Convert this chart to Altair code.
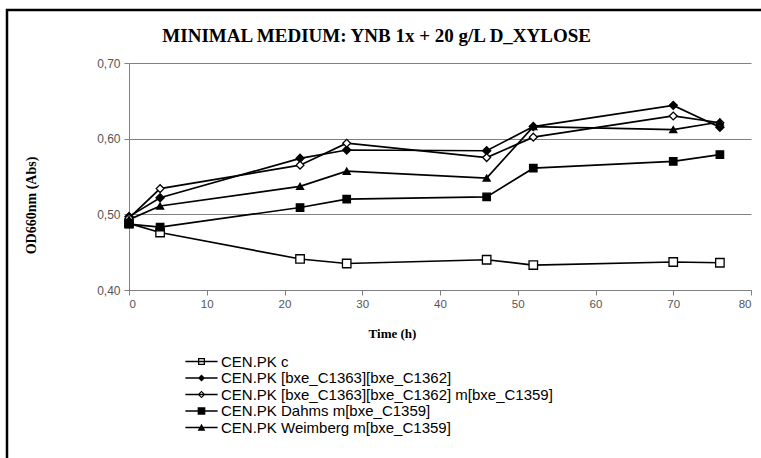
import altair as alt
import pandas as pd

times = [0, 4, 22, 28, 46, 52, 70, 76]
series_names = [
    "CEN.PK c",
    "CEN.PK [bxe_C1363][bxe_C1362]",
    "CEN.PK [bxe_C1363][bxe_C1362] m[bxe_C1359]",
    "CEN.PK Dahms m[bxe_C1359]",
    "CEN.PK Weimberg m[bxe_C1359]",
]
od_control = [0.488, 0.476, 0.441, 0.435, 0.440, 0.433, 0.437, 0.436]
od_c1363_c1362 = [0.497, 0.522, 0.574, 0.585, 0.584, 0.616, 0.644, 0.615]
od_c1363_c1362_m1359 = [0.495, 0.534, 0.565, 0.594, 0.575, 0.602, 0.630, 0.621]
od_dahms = [0.487, 0.483, 0.509, 0.520, 0.523, 0.561, 0.570, 0.579]
od_weimberg = [0.493, 0.511, 0.537, 0.557, 0.548, 0.616, 0.612, 0.622]

all_series = [od_control, od_c1363_c1362, od_c1363_c1362_m1359, od_dahms, od_weimberg]
rows = []
for name, vals in zip(series_names, all_series):
    for t, v in zip(times, vals):
        rows.append({"series": name, "time": t, "od": v})
df = pd.DataFrame(rows)

marker_shapes = ["square", "diamond", "diamond", "square", "triangle-up"]
marker_fills = ["white", "black", "white", "black", "black"]
marker_sizes = [72, 50, 50, 80, 70]

# legend glyphs (filled outlines): a short line with a small marker
LINE = "M-2.3,-0.12H2.3V0.12H-2.3Z"
legend_shapes = [
    LINE + "M-0.5,-0.5H0.5V0.5H-0.5ZM-0.32,-0.32V0.32H0.32V-0.32Z",
    LINE + "M0,-0.5L0.5,0L0,0.5L-0.5,0Z",
    LINE + "M0,-0.55L0.55,0L0,0.55L-0.55,0ZM0,-0.32L-0.32,0L0,0.32L0.32,0Z",
    LINE + "M-0.55,-0.55H0.55V0.55H-0.55Z",
    LINE + "M0,-0.55L0.55,0.45H-0.55Z",
]
legend_fills = ["black"] * 5

x_enc = alt.X(
    "time:Q",
    scale=alt.Scale(domain=[0, 80], nice=False, zero=False),
    axis=alt.Axis(
        values=list(range(0, 81, 10)),
        format="d",
        grid=False,
        tickSize=5,
        tickColor="#808080",
        domainColor="#808080",
        labelFont="Liberation Sans",
        labelFontSize=11.5,
        labelColor="#555555",
        labelPadding=3,
        title="Time (h)",
        titleFont="Liberation Serif",
        titleFontSize=13,
        titleFontWeight="bold",
        titleColor="black",
        titleX=263,
        titleY=43,
        titleBaseline="middle",
        titleAlign="center",
    ),
)
y_enc = alt.Y(
    "od:Q",
    scale=alt.Scale(domain=[0.4, 0.7], nice=False, zero=False),
    axis=alt.Axis(
        values=[0.4, 0.5, 0.6, 0.7],
        labelExpr="replace(format(datum.value, '.2f'), '.', ',')",
        grid=True,
        gridColor="#808080",
        gridWidth=1,
        tickSize=5,
        tickColor="#808080",
        domainColor="#808080",
        labelFont="Liberation Sans",
        labelFontSize=12,
        labelColor="#555555",
        labelPadding=4,
        title="OD660nm (Abs)",
        titleFont="Liberation Serif",
        titleFontSize=14,
        titleFontWeight="bold",
        titleColor="black",
        titleAngle=270,
        titleX=-98,
        titleY=142,
        titleAlign="center",
        titleBaseline="middle",
    ),
)

lines = alt.Chart(df).mark_line(color="black", strokeWidth=1.7).encode(
    x=x_enc, y=y_enc, detail="series:N"
)

points = alt.Chart(df).mark_point(stroke="black", strokeWidth=1.3, opacity=1).encode(
    x="time:Q",
    y="od:Q",
    shape=alt.Shape(
        "series:N",
        scale=alt.Scale(domain=series_names, range=marker_shapes),
        legend=None,
    ),
    fill=alt.Fill(
        "series:N",
        scale=alt.Scale(domain=series_names, range=marker_fills),
        legend=None,
    ),
    size=alt.Size(
        "series:N",
        scale=alt.Scale(domain=series_names, range=marker_sizes),
        legend=None,
    ),
)

legend_params = alt.Legend(
    title=None,
    orient="none",
    legendX=65,
    legendY=291,
    padding=0,
    symbolSize=196,
    symbolStrokeWidth=0,
    symbolOpacity=1,
    rowPadding=0.5,
    labelFont="Liberation Sans",
    labelFontSize=15,
    labelColor="black",
    labelOffset=12,
    labelLimit=500,
)

legend_layer = alt.Chart(df).transform_filter("false").mark_point(
    opacity=1, strokeWidth=0
).encode(
    x="time:Q",
    y="od:Q",
    shape=alt.Shape(
        "series:N",
        scale=alt.Scale(domain=series_names, range=legend_shapes),
        legend=legend_params,
    ),
    fill=alt.Fill(
        "series:N",
        scale=alt.Scale(domain=series_names, range=legend_fills),
        legend=legend_params,
    ),
)

frame = alt.Chart(pd.DataFrame({"k": [0]})).mark_rect(
    fillOpacity=0, stroke="black", strokeWidth=2.5
).encode(
    x=alt.value(-122), x2=alt.value(640), y=alt.value(-53), y2=alt.value(400)
)

chart = alt.layer(frame, lines, points, legend_layer).resolve_scale(
    shape="independent", fill="independent"
).properties(
    width=622,
    height=227,
    title=alt.TitleParams(
        "MINIMAL MEDIUM: YNB 1x + 20 g/L D_XYLOSE",
        font="Liberation Serif",
        fontSize=19,
        fontWeight="bold",
        color="black",
        anchor="end",
        frame="group",
        dx=-160,
        dy=72,
        offset=20,
        baseline="alphabetic",
    ),
    autosize=alt.AutoSizeParams(type="none"),
    padding={"left": 129, "top": 63, "right": 10, "bottom": 168},
    background="white",
).configure_view(stroke=None)

chart.save("out.html", embed_options={"renderer": "svg", "actions": False})
